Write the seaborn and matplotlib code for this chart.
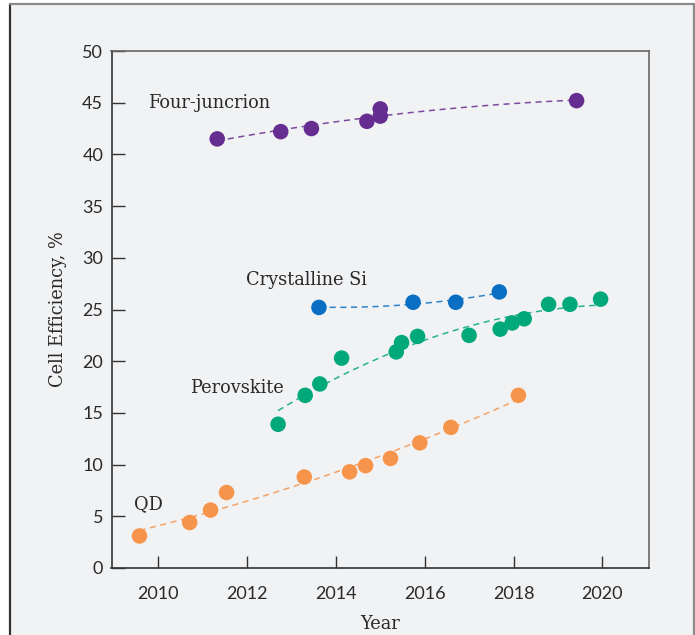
import numpy as np
import pandas as pd
import seaborn as sns
import matplotlib.pyplot as plt
from matplotlib.patches import Rectangle
from matplotlib.lines import Line2D

# Record cell efficiencies (%) by year for each technology
four_years = [2011.33, 2012.76, 2013.45, 2014.70, 2015.00, 2015.00, 2019.42]
four_eff = [41.5, 42.2, 42.5, 43.2, 44.4, 43.7, 45.2]

si_years = [2013.62, 2015.74, 2016.70, 2017.68]
si_eff = [25.2, 25.7, 25.7, 26.7]

pero_years = [2012.70, 2013.31, 2013.64, 2014.13, 2015.36, 2015.48, 2015.84,
              2017.00, 2017.70, 2017.97, 2018.24, 2018.79, 2019.27, 2019.96]
pero_eff = [13.9, 16.7, 17.8, 20.3, 20.9, 21.8, 22.4,
            22.5, 23.1, 23.7, 24.1, 25.5, 25.5, 26.0]

qd_years = [2009.58, 2010.71, 2011.18, 2011.54, 2013.29, 2014.31, 2014.67,
            2015.23, 2015.89, 2016.59, 2018.11]
qd_eff = [3.1, 4.4, 5.6, 7.3, 8.8, 9.3, 9.9, 10.6, 12.1, 13.6, 16.7]

series_names = ["Four-juncrion", "Crystalline Si", "Perovskite", "QD"]
series_colors = ["#662d91", "#0a6fc2", "#00a87a", "#f7944b"]
label_pos = [(2009.78, 45.0), (2011.98, 27.85), (2010.72, 17.4), (2009.46, 6.2)]

x_ticks = [2010, 2012, 2014, 2016, 2018, 2020]
y_ticks = [0, 5, 10, 15, 20, 25, 30, 35, 40, 45, 50]

df = pd.concat([
    pd.DataFrame({"Year": four_years, "Eff": four_eff, "Tech": series_names[0]}),
    pd.DataFrame({"Year": si_years, "Eff": si_eff, "Tech": series_names[1]}),
    pd.DataFrame({"Year": pero_years, "Eff": pero_eff, "Tech": series_names[2]}),
    pd.DataFrame({"Year": qd_years, "Eff": qd_eff, "Tech": series_names[3]}),
], ignore_index=True)

sns.set_theme(style="ticks")
serif = ["DejaVu Serif"]
sans = ["Lato", "DejaVu Sans"]
panel = "#f1f2f4"
ink = "#2a2a2a"

fig = plt.figure(figsize=(6.95, 6.35), dpi=100, facecolor="white")
# panel background with frame on left, top and right
fig.patches.append(Rectangle((10 / 695, 0), (694 - 10) / 695, (635 - 3.5) / 635,
                             transform=fig.transFigure, facecolor=panel,
                             edgecolor="none", zorder=-10))
fig.lines.append(Line2D([10 / 695, 10 / 695], [0, 1 - 3.5 / 635],
                        transform=fig.transFigure, color="#333333", lw=1.6, zorder=-5))
fig.lines.append(Line2D([10 / 695, 694 / 695], [1 - 3.5 / 635, 1 - 3.5 / 635],
                        transform=fig.transFigure, color="#8a8a8a", lw=1.6, zorder=-5))
fig.lines.append(Line2D([694 / 695, 694 / 695], [0, 1 - 3.5 / 635],
                        transform=fig.transFigure, color="#8a8a8a", lw=1.6, zorder=-5))

ax = fig.add_axes([111.5 / 695, 1 - 568 / 635, (649 - 111.5) / 695, (568 - 51) / 635])
ax.set_facecolor(panel)

palette = dict(zip(series_names, series_colors))
for name in series_names:
    sub = df[df["Tech"] == name]
    sns.regplot(data=sub, x="Year", y="Eff", order=2, ci=None, scatter=False,
                truncate=True, ax=ax,
                line_kws=dict(color=palette[name], lw=1.1, ls=(0, (4, 3)), alpha=0.85))

sns.scatterplot(data=df, x="Year", y="Eff", hue="Tech", palette=palette,
                s=125, edgecolor="none", legend=False, ax=ax, zorder=3)

for name, (lx, ly) in zip(series_names, label_pos):
    ax.text(lx, ly, name, family=serif, fontsize=12.8, color=ink,
            ha="left", va="center")

ax.set_xlim(2008.95, 2021.05)
ax.set_ylim(0, 50)
ax.set_xticks(x_ticks)
ax.set_yticks(y_ticks)
for lab in ax.get_xticklabels() + ax.get_yticklabels():
    lab.set_family(sans)
    lab.set_fontsize(13)
    lab.set_color(ink)
ax.tick_params(axis="both", direction="in", length=9, width=1, color="#333333")
ax.tick_params(axis="x", pad=13)
ax.tick_params(axis="y", pad=6)

for side in ["left", "bottom"]:
    ax.spines[side].set_color("#333333")
    ax.spines[side].set_linewidth(1.2)
for side in ["top", "right"]:
    ax.spines[side].set_visible(True)
    ax.spines[side].set_color("#666666")
    ax.spines[side].set_linewidth(1.2)

ax.set_xlabel("Year", family=serif, fontsize=12.8, color=ink, labelpad=9)
ax.set_ylabel("Cell Efficiency, %", family=serif, fontsize=12.8, color=ink, labelpad=11)

fig.savefig("out.png", dpi=100, facecolor="white")
